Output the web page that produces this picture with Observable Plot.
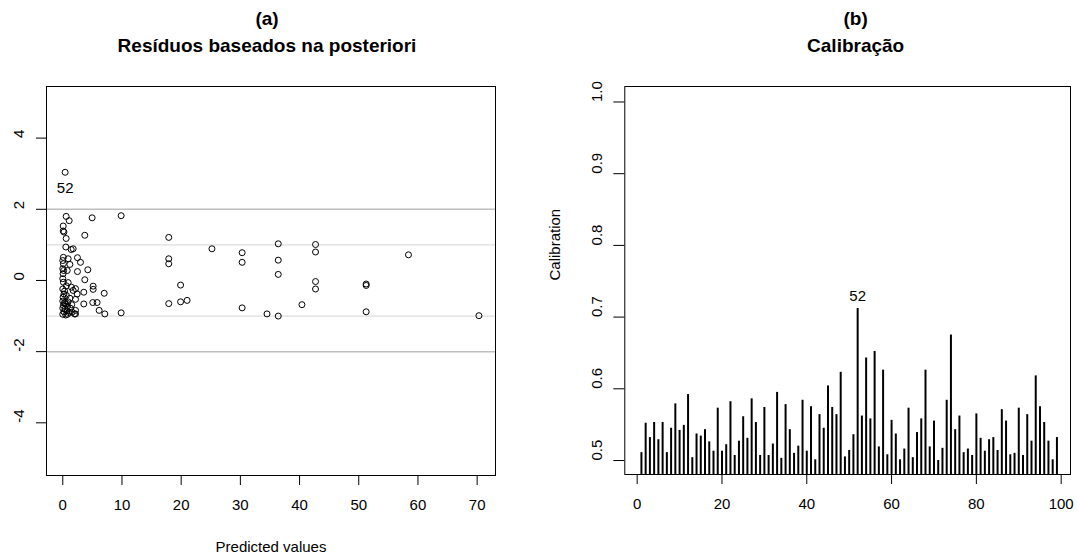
<!DOCTYPE html>
<html><head><meta charset="utf-8">
<script src="https://cdn.jsdelivr.net/npm/d3@7"></script>
<script src="https://cdn.jsdelivr.net/npm/@observablehq/plot@0.6"></script>
<style>
body{margin:0;background:#fff;}
#wrap{display:flex;width:1078px;height:556px;overflow:hidden;}
#wrap svg{display:block;flex:none;}
</style></head><body><div id="wrap"></div>
<script>
// ---- Panel (a) data: predicted values and posterior-based residuals ----
const predicted = [9.86,17.9,17.9,17.9,17.9,19.9,19.9,21.0,25.2,30.3,
  30.3,30.3,34.5,36.4,36.4,36.4,36.4,40.4,42.7,42.7,
  42.7,42.7,51.25,51.25,51.25,58.4,70.3,9.86,4.96,3.72,
  7.0,7.1,6.14,5.8,5.07,5.13,5.13,4.23,3.72,3.55,
  3.55,2.99,2.48,2.48,2.43,2.15,2.15,1.75,1.42,1.08,
  0.57,0.4,0.07,0.07,0.2,0.57,0.51,0.91,1.47,1.75,
  0.91,2.15,2.15,1.3,1.58,1.98,0.0,0.1,0.0,0.15,
  0.05,0.0,0.1,0.0,0.2,0.05,0.3,0.6,0.0,0.3,
  0.5,0.1,0.8,0.0,0.4,0.7,0.2,1.0,0.0,0.5,
  0.3,0.9,1.2,0.6,0.75,1.2,0.1,0.8,1.5];
const residuals = [1.82,1.21,0.61,0.47,-0.65,-0.13,-0.60,-0.56,0.89,0.78,
  0.51,-0.77,-0.94,1.03,0.57,0.17,-1.00,-0.68,1.01,0.80,
  -0.03,-0.24,-0.10,-0.14,-0.88,0.72,-0.99,-0.91,1.76,1.27,
  -0.36,-0.94,-0.84,-0.62,-0.62,-0.16,-0.25,0.30,0.02,-0.33,
  -0.66,0.51,0.64,0.25,-0.38,-0.53,-0.23,0.89,0.87,1.68,
  1.80,3.04,1.53,1.39,1.36,1.18,0.94,0.61,-0.19,-0.28,
  -0.06,-0.84,-0.94,-0.78,-0.89,-0.94,0.56,0.47,0.33,0.28,
  0.19,0.05,-0.05,-0.24,-0.38,-0.47,-0.30,-0.15,-0.58,-0.62,
  -0.66,-0.70,-0.72,-0.78,-0.80,-0.85,-0.88,-0.90,-0.95,-0.97,
  -0.65,-0.60,-0.50,-0.42,0.28,0.45,0.65,-0.95,-0.68];
const refLinesOuter = [-2, 2];
const refLinesInner = [-1, 1];
const xTicksA = [0, 10, 20, 30, 40, 50, 60, 70];
const yTicksA = [-4, -2, 0, 2, 4];

// ---- Panel (b) data: calibration per observation ----
const calibration = [0.511,0.552,0.532,0.553,0.529,0.553,0.511,0.545,0.579,0.542,
  0.549,0.592,0.504,0.537,0.534,0.543,0.526,0.513,0.573,0.513,
  0.522,0.582,0.507,0.527,0.561,0.531,0.586,0.553,0.507,0.574,
  0.507,0.523,0.595,0.503,0.578,0.543,0.510,0.520,0.584,0.513,
  0.575,0.501,0.564,0.545,0.604,0.574,0.564,0.623,0.505,0.514,
  0.536,0.712,0.562,0.643,0.558,0.652,0.519,0.626,0.508,0.556,
  0.537,0.501,0.516,0.573,0.504,0.539,0.558,0.626,0.519,0.555,
  0.500,0.517,0.584,0.675,0.543,0.562,0.511,0.516,0.507,0.565,
  0.531,0.513,0.529,0.532,0.514,0.571,0.555,0.508,0.510,0.573,
  0.507,0.564,0.527,0.618,0.575,0.553,0.527,0.501,0.532];
const xTicksB = [0, 20, 40, 60, 80, 100];
const yTicksB = [0.5, 0.6, 0.7, 0.8, 0.9, 1.0];
const flagged = 52;

const titleA = ["(a)", "Resíduos baseados na posteriori"];
const titleB = ["(b)", "Calibração"];
const xLabelA = "Predicted values";
const yLabelB = "Calibration";

const FONT = '"Liberation Sans", Arial, Helvetica, sans-serif';
const baseStyle = {fontFamily: FONT, fontSize: "15px", color: "black", background: "white", overflow: "visible"};

const ptsA = predicted.map((x, i) => ({x, y: residuals[i], id: i + 1}));
const barsB = calibration.map((v, i) => ({i: i + 1, v}));

const yMinB = 0.4805;

const plotA = Plot.plot({
  width: 539, height: 556,
  marginLeft: 46, marginRight: 44, marginTop: 86, marginBottom: 81,
  x: {domain: [-2.75, 73.1]},
  y: {domain: [-5.48, 5.45]},
  style: baseStyle,
  marks: [
    Plot.ruleY(refLinesInner, {y: d => d, stroke: "#dedede", strokeWidth: 1.3}),
    Plot.ruleY(refLinesOuter, {y: d => d, stroke: "#bfbfbf", strokeWidth: 1.5}),
    Plot.dot(ptsA, {x: "x", y: "y", r: 3, stroke: "black", strokeWidth: 1, fill: "none"}),
    Plot.text(ptsA.filter(d => d.id === flagged), {x: "x", y: "y", text: d => String(d.id), lineAnchor: "top", dy: 10, fontSize: 15}),
    Plot.frame({stroke: "black"}),
    Plot.axisX(xTicksA, {tickSize: 10, tickPadding: 14, fontSize: 15, label: null, tickFormat: d => String(d)}),
    Plot.axisY(yTicksA, {tickSize: 10, tickFormat: () => "", label: null}),
    Plot.text(yTicksA, {y: d => d, frameAnchor: "left", text: d => String(d), rotate: -90, dx: -23, lineAnchor: "bottom", fontSize: 15}),
    Plot.text([titleA[0]], {text: d => d, frameAnchor: "top", dx: -4, dy: -62, lineAnchor: "bottom", fontWeight: "bold", fontSize: 19}),
    Plot.text([titleA[1]], {text: d => d, frameAnchor: "top", dx: -4, dy: -35, lineAnchor: "bottom", fontWeight: "bold", fontSize: 19}),
    Plot.text([xLabelA], {text: d => d, frameAnchor: "bottom", dy: 76, lineAnchor: "bottom", fontSize: 15})
  ]
});

const plotB = Plot.plot({
  width: 539, height: 556,
  marginLeft: 85.3, marginRight: 8, marginTop: 86, marginBottom: 82,
  x: {domain: [-2.92, 102.2]},
  y: {domain: [yMinB, 1.0216]},
  style: baseStyle,
  marks: [
    Plot.ruleX(barsB, {x: "i", y1: yMinB, y2: "v", stroke: "black", strokeWidth: 2}),
    Plot.text(barsB.filter(d => d.i === flagged), {x: "i", y: "v", text: d => String(d.i), lineAnchor: "bottom", dy: -8, fontSize: 15}),
    Plot.frame({stroke: "black"}),
    Plot.axisX(xTicksB, {tickSize: 10, tickPadding: 14, fontSize: 15, label: null, tickFormat: d => String(d)}),
    Plot.axisY(yTicksB, {tickSize: 11, tickFormat: () => "", label: null}),
    Plot.text(yTicksB, {y: d => d, frameAnchor: "left", text: d => d.toFixed(1), rotate: -90, dx: -23, lineAnchor: "bottom", fontSize: 15}),
    Plot.text([yLabelB], {text: d => d, frameAnchor: "left", rotate: -90, dx: -65, lineAnchor: "bottom", fontSize: 15}),
    Plot.text([titleB[0]], {text: d => d, frameAnchor: "top", dx: 8, dy: -62, lineAnchor: "bottom", fontWeight: "bold", fontSize: 19}),
    Plot.text([titleB[1]], {text: d => d, frameAnchor: "top", dx: 8, dy: -35, lineAnchor: "bottom", fontWeight: "bold", fontSize: 19})
  ]
});

const wrap = document.getElementById("wrap");
wrap.appendChild(plotA);
wrap.appendChild(plotB);
</script>
</body></html>
